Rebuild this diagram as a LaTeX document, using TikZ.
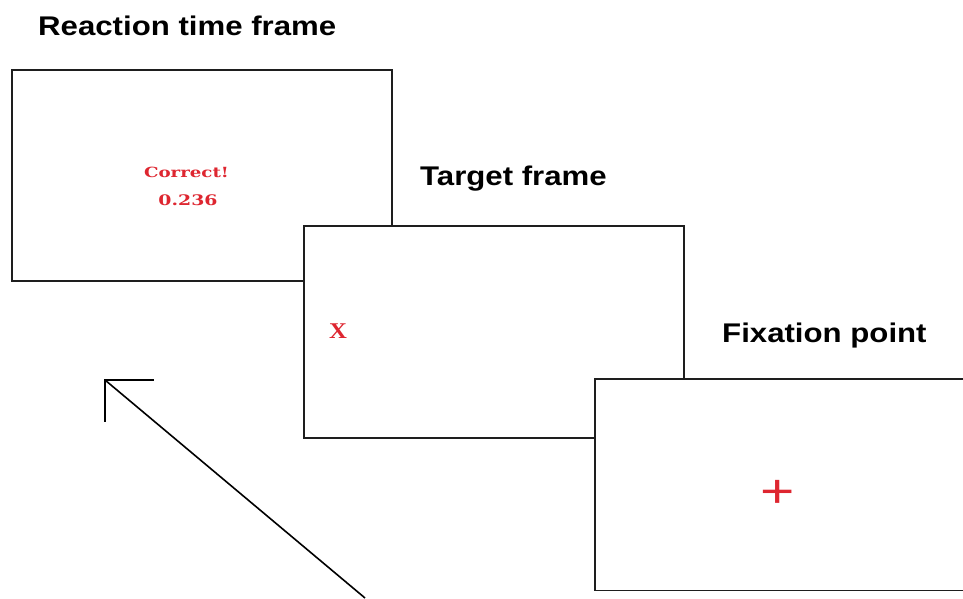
\documentclass[tikz,border=0pt]{standalone}
\usepackage{fontspec}
\setmainfont{Liberation Sans}
\newfontfamily\titlefont{Liberation Sans}
\newfontfamily\serifred{DejaVu Serif}
\newfontfamily\timesfont{Liberation Serif}
\definecolor{stimred}{RGB}{222,38,48}
\definecolor{framegray}{RGB}{30,30,30}
\begin{document}
\begin{tikzpicture}[x=1pt,y=-1pt,
  frame/.style={draw=framegray,line width=1.5pt,fill=white,anchor=north west,inner sep=0pt,
    minimum width=380pt,minimum height=211pt},
  titletext/.style={anchor=base west,inner sep=0pt,text=black,
    font=\titlefont\bfseries\fontsize{27}{30}\selectfont},
  redtext/.style={anchor=base,inner sep=0pt,text=stimred},
  arrowline/.style={draw=black,line width=1.6pt},
  arrowhead/.style={draw=black,line width=2.6pt,line cap=rect}]
\useasboundingbox (0,0) rectangle (963,598);
\fill[white] (0,0) rectangle (963,598);
% titles
\node[titletext] (t1) at (38,35) {\scalebox{1.155}[1]{Reaction time frame}};
\node[titletext] (t2) at (420,185) {\scalebox{1.155}[1]{Target frame}};
\node[titletext] (t3) at (722,342) {\scalebox{1.155}[1]{Fixation point}};
% frames
\node[frame] (rt) at (11,69) {};
\node[redtext,font=\serifred\bfseries\fontsize{14}{16}\selectfont] (corr) at (186.5,177) {\scalebox{1.3}[1]{Correct!}};
\node[redtext,font=\serifred\bfseries\fontsize{14.5}{16}\selectfont] (num) at (188,205) {\scalebox{1.3}[1]{0.236}};
\node[frame,minimum height=212pt] (tg) at (303,225) {};
\node[redtext,font=\timesfont\bfseries\fontsize{22.5}{24}\selectfont] (xx) at (338,338) {\scalebox{1.1}[1]{X}};
\node[fill=white,anchor=north west,inner sep=0pt,minimum width=368pt,minimum height=211pt] (fx) at (595,379) {};
\draw[draw=framegray,line width=1.5pt] (fx.north east) -- (fx.north west) -- (fx.south west) -- (fx.south east);
\node[redtext,font=\titlefont\fontsize{47}{50}\selectfont] (plus) at (777.5,507) {\scalebox{1.25}[1]{+}};
% arrow
\coordinate (tail) at (365,598);
\coordinate (tip) at (105,380);
\coordinate (armh) at (153,380);
\coordinate (armv) at (105,421);
\draw[arrowline] (tail) -- (tip);
\draw[arrowhead] (armh) -- (tip) -- (armv);
\end{tikzpicture}
\end{document}
